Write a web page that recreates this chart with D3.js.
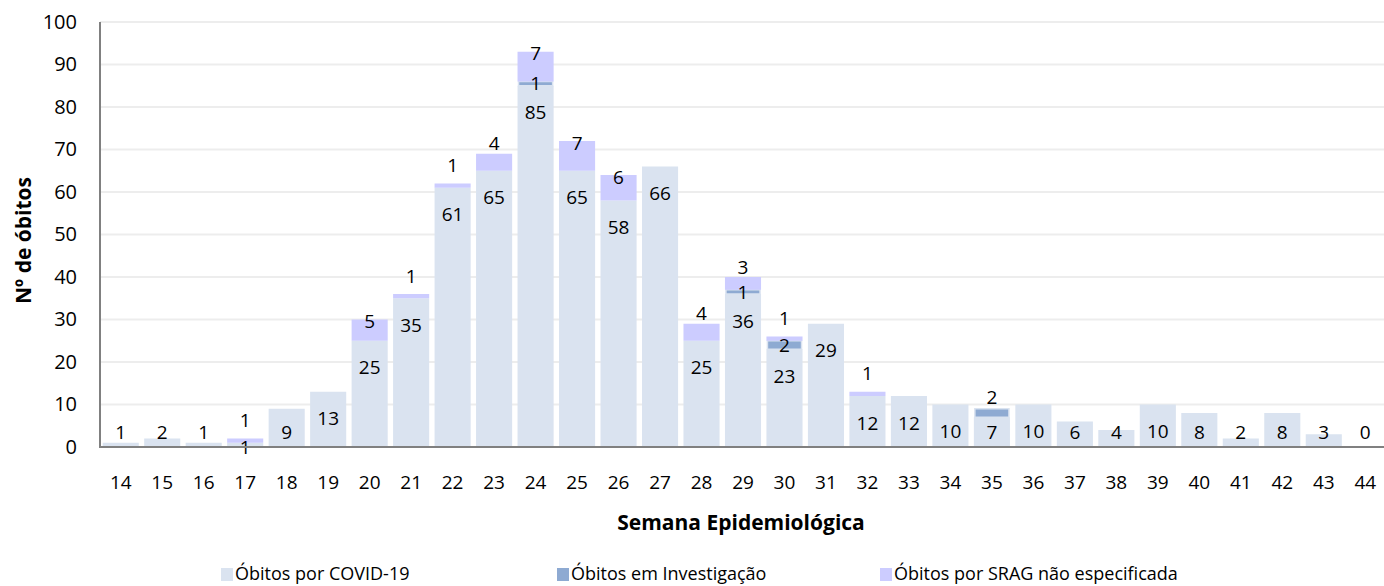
<!DOCTYPE html>
<html>
<head>
<meta charset="utf-8">
<script src="https://cdn.jsdelivr.net/npm/d3@7"></script>
<style>
  body { margin: 0; background: #fff; }
  text { font-family: 'Open Sans', sans-serif; fill: #000; }
</style>
</head>
<body>
<div id="chart"></div>
<script>

var weeks = ["14","15","16","17","18","19","20","21","22","23","24","25","26","27","28","29","30","31","32","33","34","35","36","37","38","39","40","41","42","43","44"];
var covid = [1,2,1,1,9,13,25,35,61,65,85,65,58,66,25,36,23,29,12,12,10,7,10,6,4,10,8,2,8,3,0];
var investigacao = [0,0,0,0,0,0,0,0,0,0,1,0,0,0,0,1,2,0,0,0,0,2,0,0,0,0,0,0,0,0,0];
var srag = [0,0,0,1,0,0,5,1,1,4,7,7,6,0,4,3,1,0,1,0,0,0,0,0,0,0,0,0,0,0,0];
var yTicks = [0,10,20,30,40,50,60,70,80,90,100];
var seriesNames = ["Óbitos por COVID-19", "Óbitos em Investigação", "Óbitos por SRAG não especificada"];

var colour = ["#DAE3F0", "#8EAAD2", "#CCCCFF"];

var width = 1384;
var height = 586;
var plotLeft = 100, plotRight = 1386, plotTop = 22, plotBottom = 447;
var labelSize = "19px";

var svg = d3.select("#chart")
    .append("svg")
    .attr("width", width)
    .attr("height", height);

var x = d3.scaleBand()
    .domain(weeks)
    .range([plotLeft, plotRight])
    .paddingInner(0.13)
    .paddingOuter(0.065);

var y = d3.scaleLinear()
    .domain([0, 100])
    .range([plotBottom, plotTop]);

// gridlines
svg.selectAll(".grid")
    .data(yTicks.slice(1))
    .enter()
    .append("line")
    .attr("x1", plotLeft)
    .attr("x2", plotRight)
    .attr("y1", function (d) { return y(d); })
    .attr("y2", function (d) { return y(d); })
    .style("stroke", "#EDEDED")
    .style("stroke-width", 2);

var data = weeks.map(function (w, i) {
    return { week: w, covid: covid[i], inv: investigacao[i], srag: srag[i] };
});

var bars = svg.selectAll(".bar")
    .data(data)
    .enter()
    .append("g")
    .attr("class", "bar");

bars.append("rect")
    .attr("x", function (d) { return x(d.week); })
    .attr("width", x.bandwidth())
    .attr("y", function (d) { return y(d.covid); })
    .attr("height", function (d) { return y(0) - y(d.covid); })
    .style("fill", colour[0]);

bars.filter(function (d) { return d.inv > 0; })
    .append("rect")
    .attr("x", function (d) { return x(d.week) + 1; })
    .attr("width", x.bandwidth() - 2)
    .attr("y", function (d) { return y(d.covid + d.inv); })
    .attr("height", function (d) { return y(d.covid) - y(d.covid + d.inv); })
    .style("fill", colour[1])
    .style("stroke", "#DAE3F0")
    .style("stroke-width", 1.5);

bars.filter(function (d) { return d.srag > 0; })
    .append("rect")
    .attr("x", function (d) { return x(d.week); })
    .attr("width", x.bandwidth())
    .attr("y", function (d) { return y(d.covid + d.inv + d.srag); })
    .attr("height", function (d) { return y(d.covid + d.inv) - y(d.covid + d.inv + d.srag); })
    .style("fill", colour[2]);

// axis lines
svg.append("line")
    .attr("x1", plotLeft).attr("x2", plotLeft)
    .attr("y1", y(100)).attr("y2", y(0) + 1)
    .style("stroke", "#808080").style("stroke-width", 2);
svg.append("line")
    .attr("x1", plotLeft - 1).attr("x2", plotRight)
    .attr("y1", y(0)).attr("y2", y(0))
    .style("stroke", "#808080").style("stroke-width", 2);

// y axis labels
var yAxis = svg.append("g")
    .attr("transform", "translate(" + plotLeft + ",0)")
    .call(d3.axisLeft(y).tickValues(yTicks).tickSize(0).tickPadding(23));
yAxis.select(".domain").remove();
yAxis.selectAll("text")
    .style("font-family", "'Open Sans', sans-serif")
    .style("font-size", "20px")
    .style("fill", "#000");

// x axis labels
var xAxis = svg.append("g")
    .attr("transform", "translate(0," + plotBottom + ")")
    .call(d3.axisBottom(x).tickSize(0).tickPadding(29));
xAxis.select(".domain").remove();
xAxis.selectAll("text")
    .style("font-family", "'Open Sans', sans-serif")
    .style("font-size", labelSize)
    .style("fill", "#000");

// data labels
function sragLabelY(d) {
    var t = y(d.covid + d.inv + d.srag);
    if (d.srag >= 5) return t + 2;
    if (d.srag >= 3) return t - 10;
    return t - 18;
}

bars.append("text")
    .attr("x", function (d) { return x(d.week) + x.bandwidth() / 2; })
    .attr("y", function (d) {
        var cy = Math.min(y(d.covid) + 27, y(0) - 15);
        if (d.srag > 0 && d.covid + d.inv + d.srag < 4) cy = y(0);
        return cy;
    })
    .attr("dy", "0.35em")
    .attr("text-anchor", "middle")
    .style("font-size", labelSize)
    .text(function (d) { return d.covid; });

bars.filter(function (d) { return d.inv > 0; })
    .append("text")
    .attr("x", function (d) { return x(d.week) + x.bandwidth() / 2; })
    .attr("y", function (d) {
        if (d.srag == 0) return y(d.covid + d.inv) - 11;
        return y(d.covid + d.inv / 2);
    })
    .attr("dy", "0.35em")
    .attr("text-anchor", "middle")
    .style("font-size", labelSize)
    .text(function (d) { return d.inv; });

bars.filter(function (d) { return d.srag > 0; })
    .append("text")
    .attr("x", function (d) { return x(d.week) + x.bandwidth() / 2; })
    .attr("y", sragLabelY)
    .attr("dy", "0.35em")
    .attr("text-anchor", "middle")
    .style("font-size", labelSize)
    .text(function (d) { return d.srag; });

// axis titles
svg.append("text")
    .attr("transform", "translate(24," + ((plotTop + plotBottom) / 2 + 6) + ") rotate(-90)")
    .attr("text-anchor", "middle")
    .attr("dy", "0.35em")
    .style("font-size", "21px")
    .style("font-weight", "bold")
    .text("Nº de óbitos");

svg.append("text")
    .attr("x", (plotLeft + plotRight) / 2 - 2)
    .attr("y", 523)
    .attr("dy", "0.35em")
    .attr("text-anchor", "middle")
    .style("font-size", "21px")
    .style("font-weight", "bold")
    .text("Semana Epidemiológica");

// legend
var legendX = [221, 557, 880];
var legend = svg.selectAll(".legend")
    .data(seriesNames)
    .enter()
    .append("g")
    .attr("class", "legend")
    .attr("transform", function (d, i) {
        return "translate(" + legendX[i] + ",568)";
    });

legend.append("rect")
    .attr("width", 12)
    .attr("height", 13)
    .style("fill", function (d, i) { return colour[i]; });

legend.append("text")
    .attr("x", 14)
    .attr("y", 12)
    .style("font-size", "18px")
    .text(function (d) { return d; });

</script>
</body>
</html>
